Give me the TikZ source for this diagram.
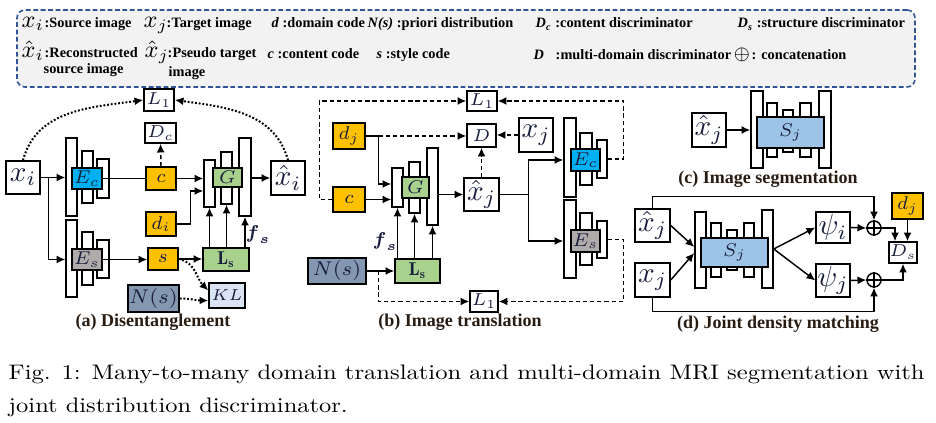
\documentclass[tikz,border=0pt]{standalone}
\usepackage{fix-cm}
\usepackage{fontspec}
\usepackage{amsmath}
\usepackage{graphicx}
\usetikzlibrary{arrows.meta,calc}
\newfontfamily\tnr{Liberation Serif}
\definecolor{orng}{HTML}{FFC000}
\definecolor{cyn}{HTML}{00B0F0}
\definecolor{gry}{HTML}{AFABAB}
\definecolor{grn}{HTML}{A9D18E}
\definecolor{slate}{HTML}{8497B0}
\definecolor{lblue}{HTML}{DAE3F3}
\definecolor{sblue}{HTML}{9DC3E6}
\definecolor{lgbg}{HTML}{F2F2F2}
\definecolor{lgbd}{HTML}{2F5597}
\definecolor{ink}{RGB}{25,30,60}
\definecolor{captxt}{RGB}{40,28,18}
\newcommand\bx[7]{\node[#6,minimum width={(#4-(#2))*0.377pt},minimum height={(#5-(#3))*0.377pt}] (#1) at ({((#2)+(#4))/2},{((#3)+(#5))/2}) {#7};}
\tikzset{
  box/.style={draw, line width=0.55pt, inner sep=0pt, fill=white, text=ink, font=\fontsize{7}{8}\selectfont},
  bar/.style={draw, line width=0.55pt, fill=white, inner sep=0pt},
  big/.style={font=\fontsize{11}{13}\selectfont},
  sm/.style={font=\fontsize{6.5}{7.5}\selectfont},
  dsh/.style={dash pattern=on 1.6pt off 1.1pt},
  dot/.style={line width=0.75pt, dash pattern=on 0.7pt off 0.7pt},
  sub/.style={font=\tnr\bfseries\fontsize{6.8}{8}\selectfont, text=captxt, inner sep=0pt},
  leg/.style={anchor=base west, inner sep=0pt, font=\tnr\bfseries\fontsize{5.4}{6}\selectfont},
  lm/.style={anchor=base west, inner sep=0pt, font=\fontsize{9}{10}\selectfont},
  oplus/.style={circle, draw, line width=0.55pt, minimum size={14*0.377pt}, inner sep=0pt, fill=white}
}
\begin{document}
\begin{tikzpicture}[x=0.377pt,y=-0.377pt,line width=0.55pt,>={Latex[length=3.3pt,width=3pt]}]
\useasboundingbox (0,0) rectangle (936,423);
% ---------------- legend
\node[draw=lgbd, fill=lgbg, line width=0.6pt, dash pattern=on 1.8pt off 1pt, rounded corners=3pt, inner sep=0pt, minimum width={898*0.377pt}, minimum height={77*0.377pt}] (legend) at (466,48.5) {};
\node[lm] (k1s) at (21,28) {$x_i$};
\node[leg] (k1t) at (44,28) {:Source image};
\node[lm] (k2s) at (143,28) {$x_j$};
\node[leg] (k2t) at (166,28) {:Target image};
\node[leg] (k3) at (271,28) {\textit{d} :domain code};
\node[leg] (k4) at (367,28) {\textit{N(s)} :priori distribution};
\node[leg] (k5) at (535,28) {\textit{D}\textsubscript{\textit{c}} :content discriminator};
\node[leg] (k6) at (737,28) {\textit{D}\textsubscript{\textit{s}} :structure discriminator};
\node[lm] (k7s) at (21,58) {$\hat{x}_i$};
\node[leg] (k7t) at (44,58) {:Reconstructed};
\node[leg] (k7u) at (43,74) {source image};
\node[lm] (k8s) at (144,58) {$\hat{x}_j$};
\node[leg] (k8t) at (167,58) {:Pseudo target};
\node[leg] (k8u) at (168,77) {image};
\node[leg] (k9) at (267,59) {\textit{c} :content code};
\node[leg] (k10) at (376,59) {\textit{s} :style code};
\node[leg] (k11s) at (533,60) {\textit{D}};
\node[leg] (k11t) at (555,60) {:multi-domain discriminator};
\node[lm,font=\fontsize{7}{8}\selectfont] (k12s) at (733,60) {$\oplus$};
\node[leg] (k12t) at (751,60) {: concatenation};
% ---------------- (a) Disentanglement
\bx{xi}{6}{161}{40}{194}{box,big}{$x_i$}
\bx{La}{144}{89}{174}{111}{box,sm}{$L_1$}
\bx{Dca}{145}{123}{176}{143}{box,sm}{$D_c$}
\bx{ea1}{66}{138}{77}{216}{bar}{}
\bx{ea2}{82}{151}{93}{203}{bar}{}
\bx{ea3}{97}{159}{109}{198}{bar}{}
\bx{Eca}{72}{168}{102}{189}{box,fill=cyn}{$E_c$}
\bx{sa1}{66}{220}{77}{297}{bar}{}
\bx{sa2}{82}{232}{93}{285}{bar}{}
\bx{sa3}{97}{240}{109}{278}{bar}{}
\bx{Esa}{72}{249}{102}{270}{box,fill=gry}{$E_s$}
\bx{ca}{146}{167}{176}{190}{box,fill=orng}{$c$}
\bx{dia}{146}{212}{176}{236}{box,fill=orng}{$d_i$}
\bx{sca}{148}{248}{178}{270}{box,fill=orng}{$s$}
\bx{ga1}{204}{160}{215}{207}{bar}{}
\bx{ga2}{221}{152}{232}{204}{bar}{}
\bx{ga3}{239}{138}{251}{216}{bar}{}
\bx{Ga}{213}{168}{242}{187}{box,fill=grn}{$G$}
\bx{xhi}{271}{161}{305}{195}{box,big}{$\hat{x}_i$}
\bx{Lsa}{203}{248}{249}{271}{box,fill=grn}{$\mathbf{L_s}$}
\bx{Nsa}{128}{285}{179}{312}{box,fill=slate,font=\fontsize{7.5}{8}\selectfont}{$N(s)$}
\bx{KL}{209}{283}{245}{308}{box,fill=lblue,font=\fontsize{6}{7}\selectfont}{$KL$}
\node[sub] (capa) at (153,322) {(a) Disentanglement};
\draw[->] (xi.east) -- (ea1.west |- xi.east);
\draw[->] ($(xi.east)+(8,0)$) |- (sa1.west |- Esa.west);
\draw (Eca.east) -- (ca.west);
\draw[->] (ca.east) -- (ga1.west |- ca.east);
\draw[->,dsh] (ca.north) -- (Dca.south);
\draw[->] (dia.east) -- ++(14,0) |- ($(ga1.west)+(0,7.5)$);
\draw[->] (Esa.east) -- (sca.west |- Esa.east);
\draw[->] (sca.east) -- (Lsa.west |- sca.east);
\draw[->] (ga1.south |- Lsa.north) -- (ga1.south);
\draw[->] (ga2.south |- Lsa.north) -- (ga2.south);
\draw[->] (ga3.south |- Lsa.north) -- (ga3.south);
\node[text=ink, inner sep=0pt, font=\fontsize{7}{8}\selectfont] (fsa) at (258,235) {$\boldsymbol{f}_{\boldsymbol{s}}$};
\draw[->] (ga3.east |- xhi.west) -- (xhi.west);
\draw[->,dot] (xi.north) to[out=75,in=188] (La.west);
\draw[->,dot] (xhi.north) to[out=105,in=-8] (La.east);
\draw[->,dot] (sca.east) to[out=-10,in=135] (KL.165);
\draw[->,dot] (Nsa.east) to[out=0,in=180] (KL.195);
% ---------------- (b) Image translation
\bx{L1t}{467}{91}{497}{111}{box,sm}{$L_1$}
\bx{Db}{467}{124}{496}{147}{box,sm}{$D$}
\bx{xjb}{519}{118}{553}{152}{box,big}{$x_j$}
\bx{djb}{333}{123}{365}{149}{box,fill=orng}{$d_j$}
\bx{cb}{333}{187}{365}{212}{box,fill=orng}{$c$}
\bx{gb1}{392}{168}{403}{207}{bar}{}
\bx{gb2}{409}{162}{420}{213}{bar}{}
\bx{gb3}{427}{148}{438}{225}{bar}{}
\bx{Gb}{402}{177}{429}{198}{box,fill=grn}{$G$}
\bx{xhj}{464}{178}{499}{211}{box,big}{$\hat{x}_j$}
\bx{Nsb}{308}{258}{366}{284}{box,fill=slate,font=\fontsize{7.5}{8}\selectfont}{$N(s)$}
\bx{Lsb}{395}{259}{440}{283}{box,fill=grn}{$\mathbf{L_s}$}
\bx{L1b}{470}{291}{498}{312}{box,sm}{$L_1$}
\bx{eb1}{564}{118}{576}{197}{bar}{}
\bx{eb2}{580}{133}{592}{185}{bar}{}
\bx{eb3}{597}{140}{607}{178}{bar}{}
\bx{Ecb}{571}{149}{600}{171}{box,fill=cyn}{$E_c$}
\bx{fb1}{564}{200}{576}{278}{bar}{}
\bx{fb2}{580}{213}{592}{265}{bar}{}
\bx{fb3}{597}{221}{607}{258}{bar}{}
\bx{Esb}{571}{230}{600}{252}{box,fill=gry}{$E_s$}
\node[sub] (capb) at (460,322) {(b) Image translation};
\draw (djb.east) -- ++(13,0) coordinate (jb);
\draw[->] (jb) |- ($(gb1.west)+(0,-3.5)$);
\draw[->,dsh] (jb) -- (Db.west |- jb);
\draw[->] (cb.east) -- (gb1.west |- cb.east);
\draw[->,dsh] (cb.west) -- ++(-13,0) |- (L1t.west);
\draw[->,dsh] (eb3.east) -- ++(16,0) |- (L1t.east);
\draw[->,dsh] (xjb.west) -- (Db.east |- xjb.west);
\draw[->,dsh] (xhj.north) -- (Db.south);
\draw[->] (gb3.east |- xhj.west) -- (xhj.west);
\draw (xhj.east) -- ++(29,0) coordinate (jc);
\draw[->] (jc) |- (eb1.west |- Ecb.west);
\draw[->] (jc) |- (fb1.west |- Esb.west);
\draw[->] (Nsb.east) -- (Lsb.west |- Nsb.east);
\draw[->] (gb1.south |- Lsb.north) -- (gb1.south);
\draw[->] (gb2.south |- Lsb.north) -- (gb2.south);
\draw[->] (gb3.south |- Lsb.north) -- (gb3.south);
\node[text=ink, inner sep=0pt, font=\fontsize{7}{8}\selectfont] (fsb) at (385,242) {$\boldsymbol{f}_{\boldsymbol{s}}$};
\draw[->,dsh] ($(Nsb.east)+(12,0)$) |- (L1b.west);
\draw[->,dsh] (fb3.east) -- ++(16,0) |- (L1b.east);
% ---------------- (c) Image segmentation
\bx{xhc}{692}{113}{726}{147}{box,big}{$\hat{x}_j$}
\bx{sc1}{751}{91}{763}{168}{bar}{}
\bx{sc5}{819}{91}{831}{168}{bar}{}
\bx{sc2}{767}{103}{777}{157}{bar}{}
\bx{sc3}{783}{110}{793}{152}{bar}{}
\bx{sc4}{800}{103}{811}{157}{bar}{}
\bx{Sjc}{757}{117}{824}{148}{box,fill=sblue}{$S_j$}
\draw[->] (xhc.east) -- (sc1.west |- xhc.east);
\node[sub] (capc) at (768,179) {(c) Image segmentation};
% ---------------- (d) Joint density matching
\bx{xhd}{635}{209}{670}{242}{box,big}{$\hat{x}_j$}
\bx{xjd}{635}{263}{670}{297}{box,big}{$x_j$}
\bx{sd1}{695}{212}{706}{288}{bar}{}
\bx{sd5}{762}{210}{773}{288}{bar}{}
\bx{sd2}{711}{223}{721}{277}{bar}{}
\bx{sd3}{727}{230}{737}{270}{bar}{}
\bx{sd4}{744}{223}{754}{277}{bar}{}
\bx{Sjd}{701}{238}{768}{267}{box,fill=sblue}{$S_j$}
\bx{psi}{816}{212}{850}{243}{box,big}{$\psi_i$}
\bx{psj}{816}{264}{850}{297}{box,big}{$\psi_j$}
\node[oplus] (opa) at (874,228) {};
\node[oplus] (opb) at (874,280) {};
\draw (opa.north) -- (opa.south) (opa.west) -- (opa.east);
\draw (opb.north) -- (opb.south) (opb.west) -- (opb.east);
\bx{djd}{892}{193}{923}{219}{box,fill=orng}{$d_j$}
\bx{Ds}{889}{242}{917}{263}{box,sm}{$D_s$}
\node[sub] (capd) at (778,324) {(d) Joint density matching};
\draw[->] (xhd.north) -- ++(0,-12) -| (opa.north);
\draw[->] (xjd.south) -- ++(0,14) -| (opb.south);
\draw[->] (xhd.east) -- ($(sd1.west)+(0,-3)$);
\draw[->] (xjd.east) -- ($(sd1.west)+(0,3)$);
\draw[->] (sd5.east) -- (psi.west);
\draw[->] (sd5.east) -- (psj.west);
\draw[->] (psi.east) -- (opa.west);
\draw[->] (psj.east) -- (opb.west);
\draw[->] (opa.east) -| ($(Ds.north)+(-8,0)$);
\draw[->] (djd.south) -- (djd.south |- Ds.north);
\draw[->] (opb.east) -| (Ds.south);
% ---------------- caption
\node[anchor=base west, inner sep=0pt, font=\fontsize{10}{12}\selectfont] (cap1) at (8,380) {\resizebox{345.3pt}{5.5pt}{Fig. 1: Many-to-many domain translation and multi-domain MRI segmentation with}};
\node[anchor=base west, inner sep=0pt, font=\fontsize{10}{12}\selectfont] (cap2) at (8,413) {\resizebox{127.8pt}{5.5pt}{joint distribution discriminator.}};
\end{tikzpicture}
\end{document}
